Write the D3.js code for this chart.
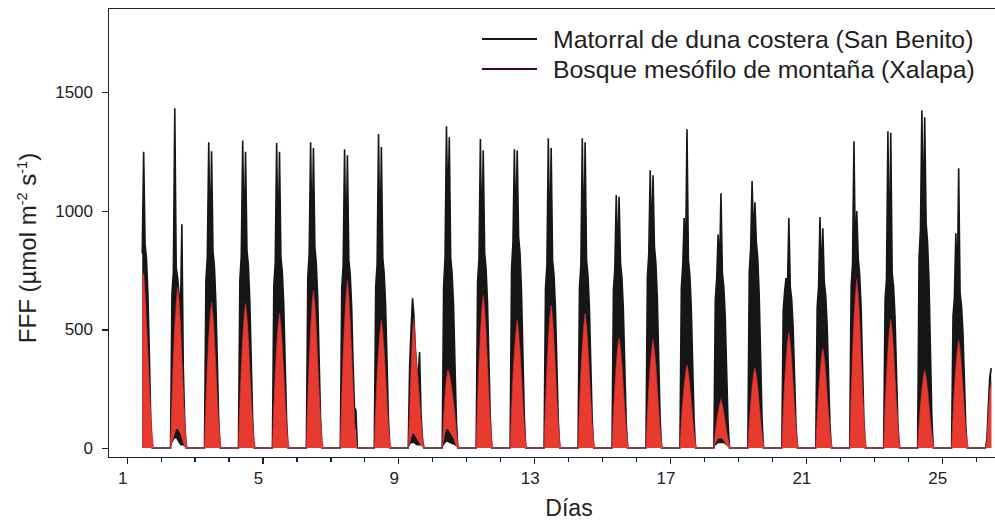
<!DOCTYPE html>
<html lang="es">
<head>
<meta charset="utf-8">
<title>FFF por día</title>
<script src="https://cdn.jsdelivr.net/npm/d3@7/dist/d3.min.js"></script>
<style>
  body { margin: 0; background: #fff; }
  svg { display: block; font-family: "Liberation Sans", Arial, sans-serif; }
  .axis path, .axis line { stroke: #222; stroke-width: 1.2; shape-rendering: crispEdges; }
  .axis text { fill: #222; font-family: "Liberation Sans", Arial, sans-serif; }
</style>
</head>
<body>
<script>
// days of the record and the sampled hours of each day
var days = [1,2,3,4,5,6,7,8,9,10,11,12,13,14,15,16,17,18,19,20,21,22,23,24,25,26];
var hours = [6,7,8,9,10,11,12,13,14,15,16,17,18,19];
var xMajorTicks = [1,5,9,13,17,21,25];
var yTicks = [0,500,1000,1500];
var seriesNames = ["Matorral de duna costera (San Benito)", "Bosque mesófilo de montaña (Xalapa)"];

// hourly maximum (6h..19h), one row per day
var sanBenitoHi = [
  [null,null,null,null,null,820,1250,860,800,650,400,120,0,0],
  [0,0,650,740,1433,760,720,650,560,944,340,110,0,0],
  [0,0,705,805,1290,830,1252,830,765,620,375,125,0,0],
  [0,0,710,810,1297,835,1250,835,770,625,375,125,0,0],
  [0,0,685,780,1286,805,1250,805,740,605,360,120,0,0],
  [0,0,720,820,1290,848,1265,848,780,635,380,125,0,0],
  [0,0,675,770,1260,793,1235,793,730,595,355,170,160,0],
  [0,0,680,775,1324,800,1270,800,735,600,360,120,0,0],
  [0,0,350,500,632,560,420,330,300,405,150,40,0,0],
  [0,0,680,800,1357,974,1311,800,735,600,360,120,0,0],
  [0,0,700,800,1303,822,1256,822,755,615,370,125,0,0],
  [0,0,755,865,1260,890,1255,890,820,665,400,135,0,0],
  [0,0,675,770,1307,793,1265,793,730,595,355,120,0,0],
  [0,0,675,770,1307,793,1290,793,730,595,355,120,0,0],
  [0,0,665,755,1067,780,1060,780,720,585,350,115,0,0],
  [0,0,720,820,1172,848,1150,848,780,635,380,125,0,0],
  [0,0,675,770,970,793,1345,793,730,595,355,120,0,0],
  [0,0,625,715,900,738,1075,738,680,555,330,110,0,0],
  [0,0,740,845,1126,870,1037,870,800,650,390,130,0,0],
  [0,0,580,660,717,680,970,680,625,510,305,100,0,0],
  [0,0,595,680,974,700,927,700,645,525,315,105,0,0],
  [0,0,680,775,1294,800,1000,800,735,600,360,120,0,0],
  [0,0,625,715,1336,738,1330,738,680,555,330,110,0,0],
  [0,0,805,920,1425,948,1395,948,870,710,425,140,0,0],
  [0,0,555,635,906,653,1180,653,600,490,295,100,0,0],
  [0,0,40,180,300,337,null,null,null,null,null,null,null,null]
];

// hourly minimum (6h..19h)
var sanBenitoLo = [
  [null,null,null,null,null,0,0,0,0,0,0,0,0,0],
  [0,0,20,30,40,40,30,20,10,10,10,5,0,0],
  [0,0,0,0,0,0,0,0,0,0,0,0,0,0],
  [0,0,0,0,0,0,0,0,0,0,0,0,0,0],
  [0,0,0,0,0,0,0,0,0,0,0,0,0,0],
  [0,0,0,0,0,0,0,0,0,0,0,0,0,0],
  [0,0,0,0,0,0,0,0,0,0,0,60,80,0],
  [0,0,0,0,0,0,0,0,0,0,0,0,0,0],
  [0,0,10,20,20,20,15,10,10,10,10,5,0,0],
  [0,0,10,20,25,25,20,20,15,15,10,5,0,0],
  [0,0,0,0,0,0,0,0,0,0,0,0,0,0],
  [0,0,0,0,0,0,0,0,0,0,0,0,0,0],
  [0,0,0,0,0,0,0,0,0,0,0,0,0,0],
  [0,0,0,0,0,0,0,0,0,0,0,0,0,0],
  [0,0,0,0,0,0,0,0,0,0,0,0,0,0],
  [0,0,0,0,0,0,0,0,0,0,0,0,0,0],
  [0,0,0,0,0,0,0,0,0,0,0,0,0,0],
  [0,0,10,15,20,20,20,20,20,15,10,5,0,0],
  [0,0,0,0,0,0,0,0,0,0,0,0,0,0],
  [0,0,0,0,0,0,0,0,0,0,0,0,0,0],
  [0,0,0,0,0,0,0,0,0,0,0,0,0,0],
  [0,0,0,0,0,0,0,0,0,0,0,0,0,0],
  [0,0,0,0,0,0,0,0,0,0,0,0,0,0],
  [0,0,0,0,0,0,0,0,0,0,0,0,0,0],
  [0,0,0,0,0,0,0,0,0,0,0,0,0,0],
  [0,0,0,0,0,0,null,null,null,null,null,null,null,null]
];

var xalapaHi = [
  [null,null,null,null,null,720,735,650,520,400,260,150,50,0],
  [0,0,200,380,510,610,680,620,520,380,240,120,30,0],
  [0,0,185,340,460,555,616,555,460,340,215,110,30,0],
  [0,0,185,335,460,550,610,550,460,335,215,110,30,0],
  [0,0,170,315,425,510,569,510,425,315,200,100,30,0],
  [0,0,200,365,500,600,666,600,500,365,235,120,35,0],
  [0,0,210,390,530,635,708,635,530,390,250,125,35,0],
  [0,0,160,300,405,485,540,485,405,300,190,95,25,0],
  [0,0,150,330,480,548,430,360,280,200,120,50,10,0],
  [0,0,120,220,290,330,310,280,240,190,140,70,20,0],
  [0,0,195,355,485,580,645,580,485,355,225,115,30,0],
  [0,0,160,300,405,485,540,485,405,300,190,95,25,0],
  [0,0,180,330,450,545,603,545,450,330,210,110,30,0],
  [0,0,170,315,425,510,569,510,425,315,200,100,30,0],
  [0,0,140,255,350,420,464,420,350,255,160,85,25,0],
  [0,0,135,250,345,410,457,410,345,250,160,80,25,0],
  [0,0,105,195,260,315,350,315,260,195,125,65,20,0],
  [0,0,60,110,150,180,202,180,150,110,70,35,10,0],
  [0,0,100,185,255,305,337,305,255,185,120,60,15,0],
  [0,0,145,270,365,440,489,440,365,270,170,90,25,0],
  [0,0,125,230,315,380,420,380,315,230,145,75,20,0],
  [0,0,215,390,535,640,712,640,535,390,250,130,35,0],
  [0,0,165,300,410,490,544,490,410,300,190,100,25,0],
  [0,0,100,180,245,295,329,295,245,180,115,60,15,0],
  [0,0,135,250,340,410,455,410,340,250,160,80,25,0],
  [0,0,30,150,240,278,null,null,null,null,null,null,null,null]
];

var xalapaLo = [
  [null,null,null,null,null,0,0,0,0,0,0,0,0,0],
  [0,0,20,40,60,80,80,70,60,40,20,5,0,0],
  [0,0,0,0,0,0,0,0,0,0,0,0,0,0],
  [0,0,0,0,0,0,0,0,0,0,0,0,0,0],
  [0,0,0,0,0,0,0,0,0,0,0,0,0,0],
  [0,0,0,0,0,0,0,0,0,0,0,0,0,0],
  [0,0,0,0,0,0,0,0,0,0,0,0,0,0],
  [0,0,0,0,0,0,0,0,0,0,0,0,0,0],
  [0,0,20,40,60,60,50,40,30,20,10,5,0,0],
  [0,0,30,60,80,80,70,60,50,40,20,5,0,0],
  [0,0,0,0,0,0,0,0,0,0,0,0,0,0],
  [0,0,0,0,0,0,0,0,0,0,0,0,0,0],
  [0,0,0,0,0,0,0,0,0,0,0,0,0,0],
  [0,0,0,0,0,0,0,0,0,0,0,0,0,0],
  [0,0,0,0,0,0,0,0,0,0,0,0,0,0],
  [0,0,0,0,0,0,0,0,0,0,0,0,0,0],
  [0,0,0,0,0,0,0,0,0,0,0,0,0,0],
  [0,0,20,30,40,40,40,40,30,20,10,5,0,0],
  [0,0,0,0,0,0,0,0,0,0,0,0,0,0],
  [0,0,0,0,0,0,0,0,0,0,0,0,0,0],
  [0,0,0,0,0,0,0,0,0,0,0,0,0,0],
  [0,0,0,0,0,0,0,0,0,0,0,0,0,0],
  [0,0,0,0,0,0,0,0,0,0,0,0,0,0],
  [0,0,0,0,0,0,0,0,0,0,0,0,0,0],
  [0,0,0,0,0,0,0,0,0,0,0,0,0,0],
  [0,0,0,0,0,0,null,null,null,null,null,null,null,null]
];

(function() {
  var w = 995, h = 522;
  var plotLeft = 108, plotRight = 995, plotTop = 8, plotBottom = 457;

  function buildPoints(hiRows, loRows) {
    var pts = [];
    days.forEach(function(day, k) {
      hours.forEach(function(hr, i) {
        if (hiRows[k][i] == null) return;
        pts.push({ t: day + hr / 24, hi: hiRows[k][i], lo: loRows[k][i] });
      });
    });
    return pts;
  }

  var svg = d3.select("body").append("svg")
      .attr("width", w)
      .attr("height", h);

  var xScale = d3.scaleLinear().domain([0.45, 26.57]).range([plotLeft, plotRight]);
  var yScale = d3.scaleLinear().domain([-38, 1856]).range([plotBottom, plotTop]);

  svg.append("clipPath").attr("id", "plot")
     .append("rect")
     .attr("x", plotLeft).attr("y", plotTop)
     .attr("width", plotRight - plotLeft).attr("height", plotBottom - plotTop);

  var band = d3.area()
      .x(function(d) { return xScale(d.t); })
      .y0(function(d) { return yScale(d.lo); })
      .y1(function(d) { return yScale(d.hi); });

  var upper = d3.line()
      .x(function(d) { return xScale(d.t); })
      .y(function(d) { return yScale(d.hi); });

  var plot = svg.append("g").attr("clip-path", "url(#plot)");
  var blackPts = buildPoints(sanBenitoHi, sanBenitoLo);
  var redPts = buildPoints(xalapaHi, xalapaLo);

  plot.append("path").datum(blackPts)
     .attr("fill", "#161616")
     .attr("d", band);
  plot.append("path").datum(blackPts)
     .attr("fill", "none")
     .attr("stroke", "#161616")
     .attr("stroke-width", 1.6)
     .attr("d", upper);

  plot.append("path").datum(redPts)
     .attr("fill", "#e83b2f")
     .attr("d", band);
  plot.append("path").datum(redPts)
     .attr("fill", "none")
     .attr("stroke", "#d8303c")
     .attr("stroke-opacity", 0.6)
     .attr("stroke-width", 1.2)
     .attr("d", upper);

  // x axis: minor day ticks, then labelled ticks
  svg.append("g")
     .attr("class", "axis")
     .attr("transform", "translate(0," + plotBottom + ")")
     .call(d3.axisBottom(xScale).tickValues(days).tickSize(5).tickSizeOuter(0).tickFormat(""));

  var xAxis = svg.append("g")
     .attr("class", "axis")
     .attr("transform", "translate(0," + plotBottom + ")")
     .call(d3.axisBottom(xScale).tickValues(xMajorTicks).tickSize(7).tickSizeOuter(0).tickPadding(8));
  xAxis.selectAll("text")
     .attr("dx", -4.5)
     .style("font-size", "17px");

  var yAxis = svg.append("g")
     .attr("class", "axis")
     .attr("transform", "translate(" + plotLeft + ",0)")
     .call(d3.axisLeft(yScale).tickValues(yTicks).tickSize(6).tickSizeOuter(0).tickPadding(9)
       .tickFormat(d3.format("d")));
  yAxis.selectAll("text")
     .style("font-size", "17px");

  svg.append("line")
     .attr("x1", plotLeft).attr("x2", plotRight)
     .attr("y1", plotTop + 0.5).attr("y2", plotTop + 0.5)
     .attr("stroke", "#222")
     .attr("stroke-width", 1.2);

  // titles
  svg.append("text")
     .attr("x", 569)
     .attr("y", 516)
     .attr("text-anchor", "middle")
     .style("font-size", "23px")
     .attr("fill", "#222")
     .text("Días");

  var ytitle = svg.append("text")
     .attr("transform", "translate(36,248) rotate(-90)")
     .attr("text-anchor", "middle")
     .style("font-size", "24px")
     .attr("fill", "#222");
  ytitle.append("tspan").text("FFF (µmol m");
  ytitle.append("tspan").attr("dy", -9).style("font-size", "14.5px").text("-2");
  ytitle.append("tspan").attr("dy", 9).text(" s");
  ytitle.append("tspan").attr("dy", -9).style("font-size", "14.5px").text("-1");
  ytitle.append("tspan").attr("dy", 9).text(")");

  // legend
  var legendColors = ["#161616", "#3a0c12"];
  seriesNames.forEach(function(name, i) {
    var ly = 39 + i * 30;
    svg.append("line")
       .attr("x1", 482).attr("x2", 537)
       .attr("y1", ly).attr("y2", ly)
       .attr("stroke", legendColors[i])
       .attr("stroke-width", 2);
    svg.append("text")
       .attr("x", 553)
       .attr("y", ly + 8.5)
       .style("font-size", "24.8px")
       .attr("fill", "#1e1e1e")
       .text(name);
  });
})();
</script>
</body>
</html>
